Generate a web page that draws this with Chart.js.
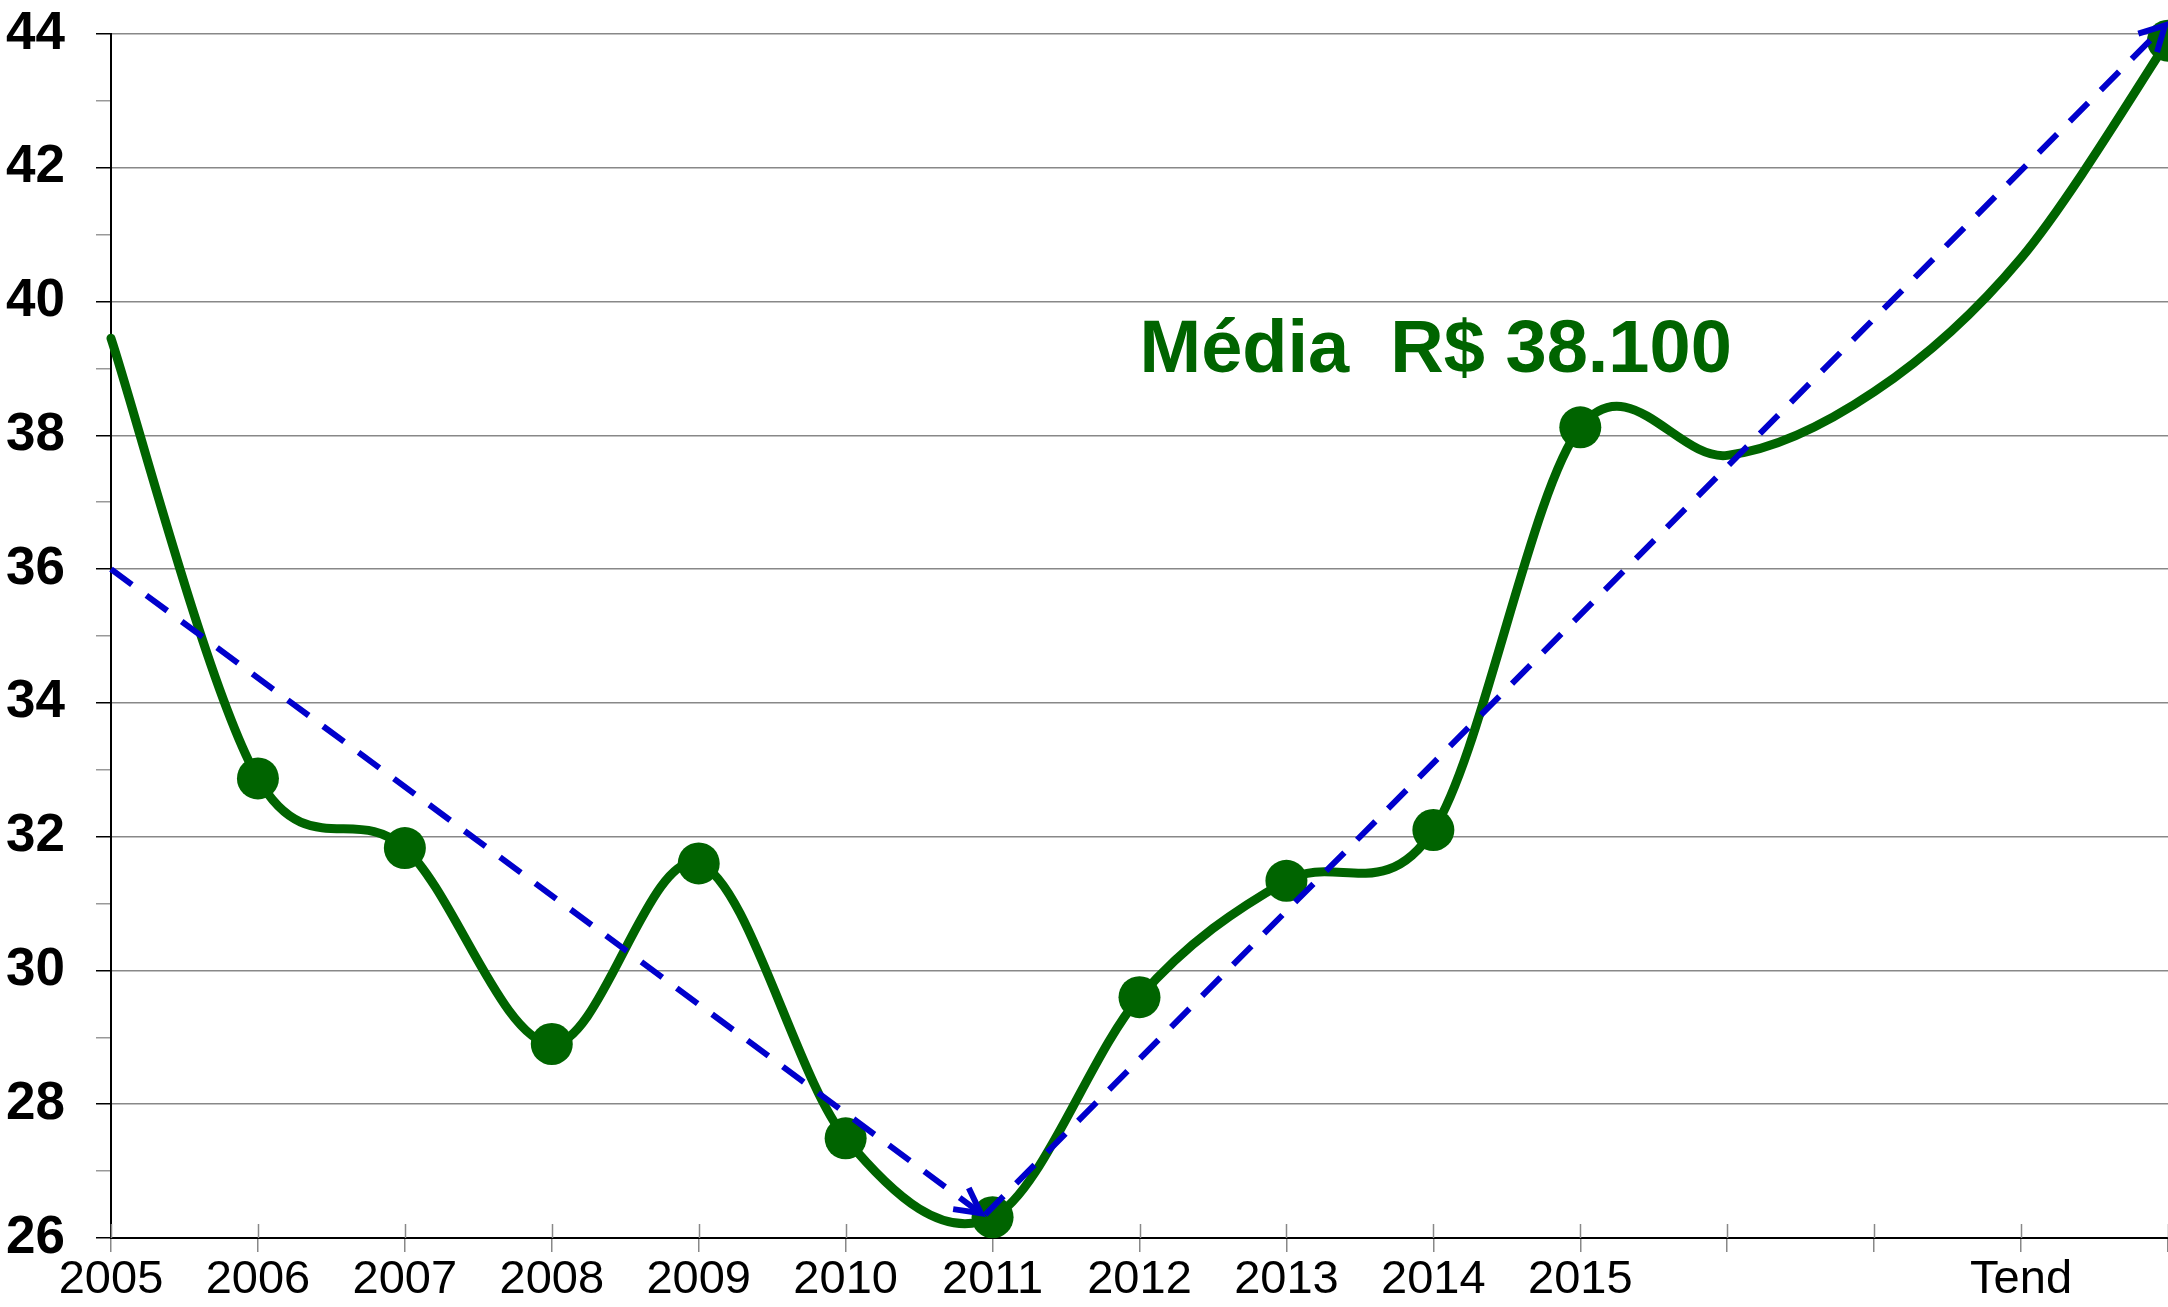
<!DOCTYPE html>
<html>
<head>
<meta charset="utf-8">
<script src="https://cdn.jsdelivr.net/npm/chart.js@4/dist/chart.umd.min.js"></script>
<style>
  html, body { margin: 0; padding: 0; background: #ffffff; }
  #wrap { width: 2168px; height: 1307px; position: relative; }
</style>
</head>
<body>
<div id="wrap"><canvas id="c"></canvas></div>
<script>
// ---- data ----
const xLabels = ['2005','2006','2007','2008','2009','2010','2011','2012','2013','2014','2015','','','Tend',''];
const priceX  = [0, 1, 2, 3, 4, 5, 6, 7, 8, 9, 10, 11, 12, 13, 14];
const priceY  = [39.45, 32.87, 31.83, 28.9, 31.6, 27.49, 26.31, 29.6, 31.34, 32.1, 38.12, 37.7, 38.65, 40.65, 43.9];
const trendDownX = [0, 5.92];
const trendDownY = [36, 26.37];
const trendUpX   = [5.95, 13.98];
const trendUpY   = [26.35, 44.13];
const yMin = 26, yMax = 44;
const noteText = 'Média  R$ 38.100';
const noteX = 7, noteY = 38.95;

const GREEN = '#006400';
const BLUE  = '#0000CC';

const toPts = (xs, ys) => xs.map((x, i) => ({ x: x, y: ys[i] }));

// Spreadsheet-style smoothing: uniform Catmull-Rom control points (1/6 rule)
const smoothing = {
  id: 'smoothing',
  beforeDatasetDraw(chart, args) {
    if (args.index !== 0) return;
    const line = args.meta.dataset;
    const pts = args.meta.data;
    if (line && line.updateControlPoints) line.updateControlPoints(chart.chartArea, 'x');
    for (let i = 0; i < pts.length; i++) {
      const p = pts[i];
      const prev = pts[i - 1] || p;
      const next = pts[i + 1] || p;
      const dx = (next.x - prev.x) / 6, dy = (next.y - prev.y) / 6;
      p.cp1x = p.x - dx; p.cp1y = p.y - dy;
      p.cp2x = p.x + dx; p.cp2y = p.y + dy;
    }
    if (line) line._path = undefined;
  }
};

const overlay = {
  id: 'overlay',
  beforeDatasetsDraw(chart) {
    const ctx = chart.ctx, xs = chart.scales.x, area = chart.chartArea;
    ctx.save();
    ctx.strokeStyle = '#888888';
    ctx.lineWidth = 1.5;
    for (let i = 0; i < xLabels.length; i++) {
      const px = Math.round(xs.getPixelForValue(i)) + 0.5;
      ctx.beginPath();
      ctx.moveTo(px, area.bottom - 14);
      ctx.lineTo(px, area.bottom);
      ctx.stroke();
    }
    ctx.restore();
  },
  afterDatasetsDraw(chart) {
    const ctx = chart.ctx;
    // arrowheads at the end of each trend line
    [1, 2].forEach(di => {
      const pts = chart.getDatasetMeta(di).data;
      const a = pts[pts.length - 2], b = pts[pts.length - 1];
      const ang = Math.atan2(b.y - a.y, b.x - a.x);
      const len = 28, spread = 28 * Math.PI / 180;
      ctx.save();
      ctx.strokeStyle = BLUE;
      ctx.lineWidth = 6;
      ctx.lineCap = 'butt';
      ctx.lineJoin = 'miter';
      ctx.beginPath();
      ctx.moveTo(b.x - len * Math.cos(ang - spread), b.y - len * Math.sin(ang - spread));
      ctx.lineTo(b.x, b.y);
      ctx.lineTo(b.x - len * Math.cos(ang + spread), b.y - len * Math.sin(ang + spread));
      ctx.stroke();
      ctx.restore();
    });
    // annotation text
    const xs = chart.scales.x, ys = chart.scales.y;
    ctx.save();
    ctx.fillStyle = GREEN;
    ctx.font = 'bold 74px "Liberation Sans", Arial, sans-serif';
    ctx.textAlign = 'left';
    ctx.textBaseline = 'alphabetic';
    ctx.fillText(noteText, xs.getPixelForValue(noteX), ys.getPixelForValue(noteY));
    ctx.restore();
  }
};

new Chart(document.getElementById('c'), {
  type: 'line',
  data: {
    datasets: [
      {
        label: 'Média',
        data: toPts(priceX, priceY),
        borderColor: GREEN,
        backgroundColor: GREEN,
        borderWidth: 9,
        borderCapStyle: 'round',
        borderJoinStyle: 'round',
        tension: 0.4,
        pointRadius: ctx => ((ctx.dataIndex >= 1 && ctx.dataIndex <= 10) || ctx.dataIndex === priceX.length - 1) ? 21 : 0,
        pointBorderWidth: 0,
        pointBackgroundColor: GREEN,
        clip: false,
        order: 2
      },
      {
        label: 'tendência 1',
        data: toPts(trendDownX, trendDownY),
        borderColor: BLUE,
        borderWidth: 6,
        borderDash: [26, 18],
        pointRadius: 0,
        tension: 0,
        clip: false,
        order: 1
      },
      {
        label: 'tendência 2',
        data: toPts(trendUpX, trendUpY),
        borderColor: BLUE,
        borderWidth: 6,
        borderDash: [26, 18],
        pointRadius: 0,
        tension: 0,
        clip: false,
        order: 1
      }
    ]
  },
  options: {
    responsive: true,
    maintainAspectRatio: false,
    animation: false,
    events: [],
    layout: { autoPadding: false, padding: { top: 34, right: 0, left: 0, bottom: 0 } },
    plugins: { legend: { display: false }, tooltip: { enabled: false } },
    scales: {
      x: {
        type: 'linear',
        min: 0,
        max: xLabels.length - 1,
        afterFit: s => { s.height = 69; s.paddingLeft = 0; s.paddingRight = 0; },
        border: { color: '#000000', width: 2 },
        grid: { drawOnChartArea: false, drawTicks: true, tickLength: 14, tickColor: '#888888', lineWidth: 1.5 },
        ticks: {
          stepSize: 1,
          autoSkip: false,
          maxRotation: 0,
          padding: 0,
          color: '#000000',
          font: { family: '"Liberation Sans", Arial, sans-serif', size: 47 },
          callback: v => xLabels[Math.round(v)] ?? ''
        }
      },
      y: {
        min: yMin,
        max: yMax,
        afterFit: s => { s.width = 111; s.paddingTop = 0; s.paddingBottom = 0; },
        border: { color: '#000000', width: 2 },
        grid: {
          color: ctx => (ctx.tick && ctx.tick.value % 2 === 0) ? '#888888' : 'rgba(0,0,0,0)',
          tickColor: ctx => (ctx.tick && ctx.tick.value % 2 === 0) ? '#000000' : '#999999',
          lineWidth: 1.5,
          tickLength: 15
        },
        ticks: {
          stepSize: 1,
          autoSkip: false,
          padding: 31,
          color: '#000000',
          font: { family: '"Liberation Sans", Arial, sans-serif', size: 53, weight: 'bold' },
          callback: v => (v % 2 === 0 ? String(v) : '')
        }
      }
    }
  },
  plugins: [smoothing, overlay]
});
</script>
</body>
</html>
